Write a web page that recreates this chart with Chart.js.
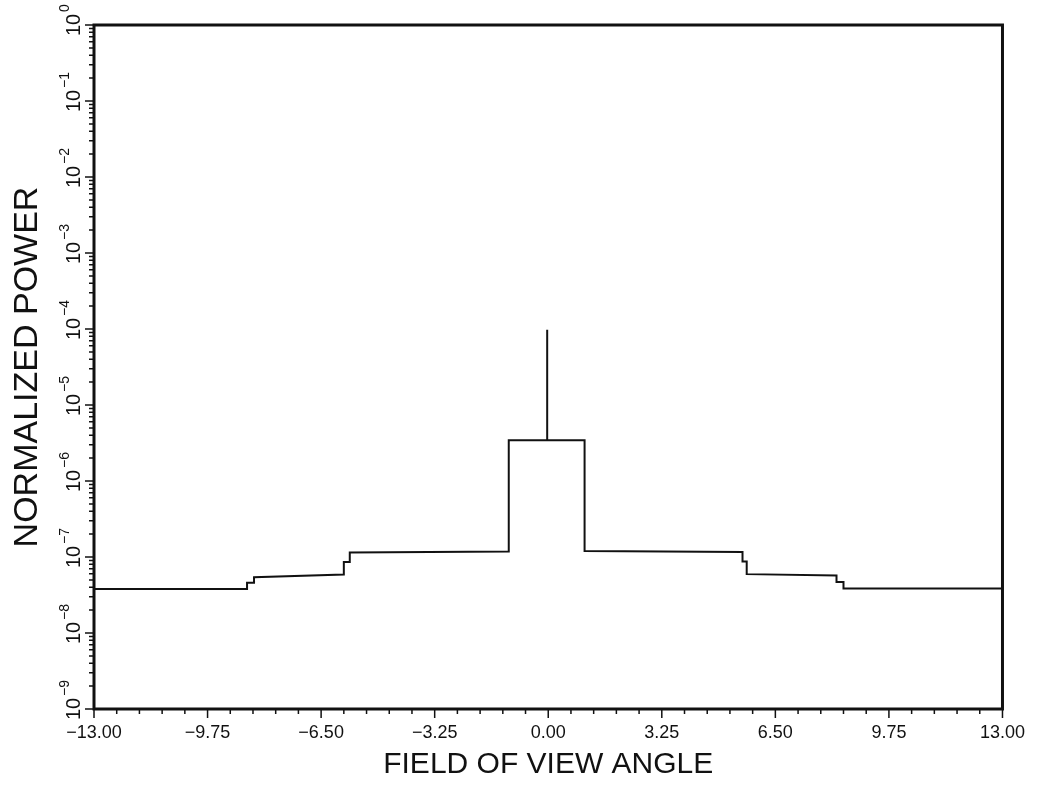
<!DOCTYPE html>
<html>
<head>
<meta charset="utf-8">
<title>Normalized power vs field of view angle</title>
<script src="https://cdn.jsdelivr.net/npm/chart.js@4.4.1/dist/chart.umd.min.js"></script>
<style>
  html, body { margin: 0; padding: 0; background: #fff; }
  canvas { display: block; }
</style>
</head>
<body>
<canvas id="myChart" width="1038" height="788"></canvas>
<script>
      // corners of the stepped trace
      const angles = [-13, -8.62, -8.62, -8.42, -8.42, -5.85, -5.85, -5.68, -5.68, -1.13, -1.13,
        -0.03, -0.03, -0.03, 1.04, 1.04, 5.56, 5.56, 5.68, 5.68, 8.25, 8.25, 8.45, 8.45, 13];
      const power = [3.8e-8, 3.8e-8, 4.6e-8, 4.6e-8, 5.4e-8, 5.9e-8, 8.6e-8, 8.6e-8, 1.15e-7, 1.18e-7, 3.45e-6,
        3.45e-6, 9.8e-5, 3.45e-6, 3.45e-6, 1.2e-7, 1.16e-7, 8.7e-8, 8.7e-8, 5.95e-8, 5.7e-8, 4.7e-8, 4.7e-8, 3.85e-8, 3.85e-8];

      const xTickValues = [-13, -9.75, -6.5, -3.25, 0, 3.25, 6.5, 9.75, 13];
      const yTickExponents = [0, -1, -2, -3, -4, -5, -6, -7, -8, -9];

      const fontFamily = '"Liberation Sans", Arial, sans-serif';
      const ink = '#111';

      function expText(e) {
        return e < 0 ? '\u2212' + Math.abs(e) : String(e);
      }

      // frame, outward tick marks and the 10^n labels
      const frameAndTicks = {
        id: 'frame_and_ticks',
        afterDraw: (chart) => {
          const ctx = chart.ctx;
          const area = chart.chartArea;
          const xs = chart.scales.x;
          const ys = chart.scales.y;
          ctx.save();
          ctx.strokeStyle = ink;
          ctx.fillStyle = ink;

          ctx.lineWidth = 1.5;
          ctx.beginPath();
          for (let i = 0; i <= 40; i++) {
            const px = xs.getPixelForValue(-13 + i * 0.65);
            const len = i % 5 === 0 ? 9 : 5;
            ctx.moveTo(px, area.bottom);
            ctx.lineTo(px, area.bottom + len);
          }
          yTickExponents.forEach(e => {
            for (let m = 1; m <= 9; m++) {
              if (e === 0 && m > 1) break;
              const py = ys.getPixelForValue(m * Math.pow(10, e));
              const len = m === 1 ? 9 : 5;
              ctx.moveTo(area.left, py);
              ctx.lineTo(area.left - len, py);
            }
          });
          ctx.stroke();

          ctx.lineWidth = 3;
          ctx.strokeRect(area.left, area.top, area.right - area.left, area.bottom - area.top);

          yTickExponents.forEach(e => {
            const py = ys.getPixelForValue(Math.pow(10, e));
            ctx.save();
            ctx.translate(80, py);
            ctx.rotate(-Math.PI / 2);
            ctx.font = '20px ' + fontFamily;
            ctx.textAlign = 'center';
            ctx.textBaseline = 'alphabetic';
            ctx.fillText('10', 0, 0);
            const w = ctx.measureText('10').width;
            ctx.font = '14px ' + fontFamily;
            ctx.textAlign = 'left';
            ctx.fillText(expText(e), w / 2 + 2, -11);
            ctx.restore();
          });
          ctx.restore();
        }
      };

      const data = {
        datasets: [{
          label: 'Normalized power',
          data: angles.map((a, i) => ({ x: a, y: power[i] })),
          borderColor: ink,
          borderWidth: 2,
          pointRadius: 0,
          tension: 0,
          fill: false
        }]
      };

      const config = {
        type: 'line',
        data: data,
        options: {
          responsive: false,
          animation: false,
          devicePixelRatio: 1,
          layout: { padding: { top: 25, right: 34, left: 0, bottom: 0 } },
          plugins: {
            legend: { display: false },
            tooltip: { enabled: false }
          },
          scales: {
            x: {
              type: 'linear',
              min: -13,
              max: 13,
              afterBuildTicks: (s) => { s.ticks = xTickValues.map(v => ({ value: v })); },
              afterFit: (s) => { s.height = 79; },
              grid: { display: false, drawTicks: false, drawOnChartArea: false },
              border: { display: false },
              ticks: {
                color: ink,
                font: { family: fontFamily, size: 18 },
                padding: 13,
                maxRotation: 0,
                autoSkip: false,
                callback: (v) => (v < 0 ? '\u2212' : '') + Math.abs(v).toFixed(2)
              },
              title: {
                display: true,
                text: 'FIELD OF VIEW ANGLE',
                color: ink,
                font: { family: fontFamily, size: 30 },
                padding: { top: 0, bottom: 5 }
              }
            },
            y: {
              type: 'logarithmic',
              min: 1e-9,
              max: 1,
              afterFit: (s) => { s.width = 94; },
              grid: { display: false, drawTicks: false, drawOnChartArea: false },
              border: { display: false },
              ticks: { display: false },
              title: {
                display: true,
                text: 'NORMALIZED POWER',
                color: ink,
                font: { family: fontFamily, size: 34 },
                padding: { top: 7, bottom: 0 }
              }
            }
          }
        },
        plugins: [frameAndTicks]
      };

      const myChart = new Chart(document.getElementById('myChart'), config);
</script>
</body>
</html>
